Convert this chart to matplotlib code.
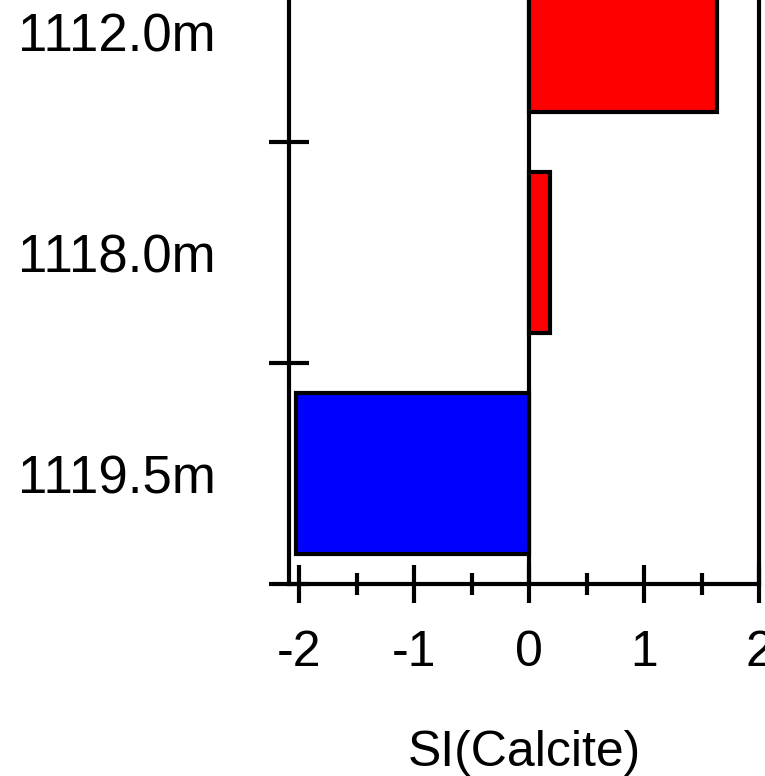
import matplotlib
matplotlib.use('Agg')
import matplotlib.pyplot as plt
from matplotlib.ticker import MultipleLocator, FixedLocator, FixedFormatter

# depths, bottom to top, and saturation index of calcite
depths = ['1119.5m', '1118.0m', '1112.0m']
si_calcite = [-2.03, 0.18, 1.63]
x_ticks = [-2, -1, 0, 1, 2]

plt.rcParams['font.family'] = ['Liberation Sans', 'DejaVu Sans']

fig = plt.figure(figsize=(7.65, 7.76), dpi=100)
# the axes run off the top of the picture, only the lower part is shown
ax = fig.add_axes([0.3778, 0.2474, 0.6144, 0.8544])

colors = ['red' if v > 0 else 'blue' for v in si_calcite]
pos = [i + 0.5 for i in range(len(depths))]
ax.barh(pos, si_calcite, height=0.73, color=colors, edgecolor='black', linewidth=3.0, zorder=3)
ax.axvline(0, color='black', linewidth=3.0, zorder=2)

ax.set_xlim(-2.09, 2.0)
ax.set_ylim(0, 3)

for s in ax.spines.values():
    s.set_linewidth(3.0)

ax.xaxis.set_major_locator(FixedLocator(x_ticks))
ax.xaxis.set_minor_locator(MultipleLocator(0.5))
ax.set_xticklabels([str(t) for t in x_ticks])
ax.tick_params(axis='x', which='major', direction='inout', length=28, width=3.0, labelsize=36, pad=19)
ax.tick_params(axis='x', which='minor', direction='inout', length=16, width=3.0)

ax.yaxis.set_major_locator(FixedLocator([0, 1, 2, 3]))
ax.yaxis.set_major_formatter(FixedFormatter(['', '', '', '']))
ax.yaxis.set_minor_locator(FixedLocator(pos))
ax.yaxis.set_minor_formatter(FixedFormatter(depths))
ax.tick_params(axis='y', which='major', direction='inout', length=29, width=3.0)
ax.tick_params(axis='y', which='minor', length=0, labelsize=38, pad=53)

ax.set_xlabel('SI(Calcite)', fontsize=36, labelpad=39)

fig.savefig('out.png', dpi=100)
